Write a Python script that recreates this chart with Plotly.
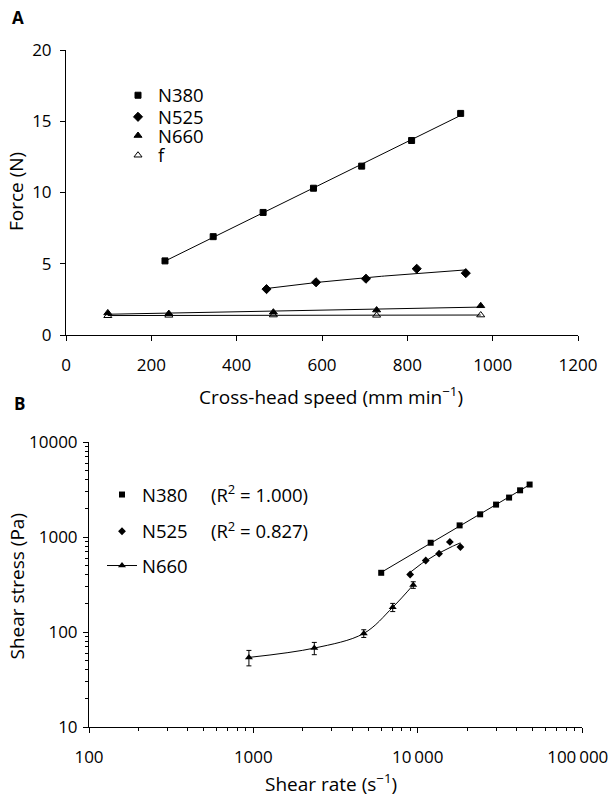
import numpy as np
import plotly.graph_objects as go

# panel A: force vs cross-head speed
speed_380 = [232, 345, 462, 580, 693, 810, 925]
force_380 = [5.2, 6.9, 8.6, 10.3, 11.85, 13.65, 15.55]
speed_525 = [470, 586, 703, 822, 937]
force_525 = [3.22, 3.7, 3.95, 4.65, 4.34]
speed_660 = [98, 241, 486, 728, 972]
force_660 = [1.55, 1.5, 1.6, 1.75, 2.05]
speed_f = [98, 241, 486, 728, 972]
force_f = [1.35, 1.38, 1.4, 1.38, 1.4]

# panel B: shear stress vs shear rate
rate_380 = [6000, 12000, 18000, 24000, 30000, 36000, 42000, 48000]
stress_380 = [420, 870, 1325, 1733, 2193, 2600, 3100, 3566]
rate_525 = [9000, 11200, 13500, 15700, 18200]
stress_525 = [403, 566, 667, 888, 785]
rate_660 = [940, 2350, 4700, 7050, 9400]
stress_660 = [54, 67.7, 96.6, 182, 313]
err_660 = [10, 10, 9, 18, 25]

FONT = "Open Sans"
BLACK = "black"
W, H = 609, 799

fig = go.Figure()


def lin_fit(x, y):
    k, b = np.polyfit(x, y, 1)
    xx = np.array([min(x), max(x)])
    return xx, k * xx + b


def log_fit(x, y):
    k, b = np.polyfit(np.log(x), y, 1)
    xx = np.linspace(min(x), max(x), 60)
    return xx, k * np.log(xx) + b


def pow_fit(x, y):
    k, b = np.polyfit(np.log(x), np.log(y), 1)
    xx = np.array([min(x), max(x)])
    return xx, np.exp(b) * xx ** k


line = dict(color=BLACK, width=1)

# ---- A : trend lines, then markers (one small legend per entry so spacing matches)
for x, y, fit in [(speed_380, force_380, lin_fit), (speed_525, force_525, log_fit),
                  (speed_660, force_660, lin_fit), (speed_f, force_f, lin_fit)]:
    fx, fy = fit(x, y)
    fig.add_trace(go.Scatter(x=fx, y=fy, mode="lines", line=line, showlegend=False,
                             hoverinfo="skip", xaxis="x", yaxis="y"))

seriesA = [("N380", speed_380, force_380, "square", 6),
           ("N525", speed_525, force_525, "diamond", 7),
           ("N660", speed_660, force_660, "triangle-up", 7),
           ("f", speed_f, force_f, "triangle-up-open", 7)]
legA = ["legend", "legend2", "legend3", "legend4"]
for (name, x, y, sym, sz), lg in zip(seriesA, legA):
    fig.add_trace(go.Scatter(x=x, y=y, mode="markers", name=name,
                             marker=dict(symbol=sym, size=sz, color=BLACK, line=dict(color=BLACK, width=1)),
                             xaxis="x", yaxis="y", legend=lg))

# ---- B
fx, fy = pow_fit(rate_380, stress_380)
fig.add_trace(go.Scatter(x=fx, y=fy, mode="lines", line=line, showlegend=False,
                         hoverinfo="skip", xaxis="x2", yaxis="y2"))
fx, fy = log_fit(rate_525, stress_525)
fig.add_trace(go.Scatter(x=fx, y=fy, mode="lines", line=line, showlegend=False,
                         hoverinfo="skip", xaxis="x2", yaxis="y2"))

fig.add_trace(go.Scatter(x=rate_380, y=stress_380, mode="markers",
                         name="N380\u2003 (R<sup>2</sup> = 1.000)",
                         marker=dict(symbol="square", size=6, color=BLACK),
                         xaxis="x2", yaxis="y2", legend="legend5"))
fig.add_trace(go.Scatter(x=rate_525, y=stress_525, mode="markers",
                         name="N525\u2003 (R<sup>2</sup> = 0.827)",
                         marker=dict(symbol="diamond", size=6, color=BLACK),
                         xaxis="x2", yaxis="y2", legend="legend6"))
fig.add_trace(go.Scatter(x=rate_660, y=stress_660, mode="lines+markers", name="N660",
                         line=dict(color=BLACK, width=1, shape="spline"),
                         marker=dict(symbol="triangle-up", size=7, color=BLACK),
                         error_y=dict(type="data", array=err_660, color=BLACK, thickness=1, width=2.5),
                         xaxis="x2", yaxis="y2", legend="legend7"))

ax = dict(showline=True, linecolor=BLACK, linewidth=1, ticks="outside", ticklen=5,
          tickcolor=BLACK, showgrid=False, zeroline=False, automargin=False,
          ticklabeloverflow="allow",
          tickfont=dict(family=FONT, size=17, color=BLACK))


def leg(mx, my):
    return dict(x=(mx - 20) / W, y=1 - my / H, xanchor="left", yanchor="middle",
                bgcolor="rgba(0,0,0,0)", font=dict(family=FONT, size=18.5, color=BLACK))


def note(text, px, py, size=19, angle=0, anchor="center"):
    return dict(text=text, x=px / W, y=1 - py / H, xref="paper", yref="paper",
                xanchor=anchor, yanchor="middle", textangle=angle, showarrow=False,
                font=dict(family=FONT, size=size, color=BLACK))


fig.update_layout(
    width=W, height=H,
    margin=dict(l=0, r=0, t=0, b=0),
    paper_bgcolor="white", plot_bgcolor="white",
    font=dict(family=FONT, size=17, color=BLACK),
    xaxis=dict(ax, domain=[66 / W, 578 / W], range=[0, 1200], dtick=200, anchor="y",
               ticklabelstandoff=10),
    yaxis=dict(ax, domain=[1 - 335 / H, 1 - 50 / H], range=[0, 20], dtick=5, anchor="x",
               ticklabelstandoff=5),
    xaxis2=dict(ax, domain=[89 / W, 582 / W], type="log", range=[2, 5], anchor="y2",
                tickvals=[100, 1000, 10000, 100000],
                # trailing space nudges the last label inside the page edge
                ticktext=["100", "1000", "10\u2009000", "100\u2009000\u2002"],
                ticklabelstandoff=10,
                minor=dict(ticks="outside", ticklen=3, tickcolor=BLACK, dtick="D1", showgrid=False)),
    yaxis2=dict(ax, domain=[1 - 727 / H, 1 - 442 / H], type="log", range=[1, 4], anchor="x2",
                tickvals=[10, 100, 1000, 10000],
                ticktext=["10", "100", "1000", "10000"],
                ticklabelstandoff=2,
                minor=dict(ticks="outside", ticklen=3, tickcolor=BLACK, dtick="D1", showgrid=False)),
    legend=leg(138, 95.7),
    legend2=leg(138, 117.3),
    legend3=leg(138, 136),
    legend4=leg(138, 155.7),
    legend5=leg(122, 495),
    legend6=leg(122, 531.7),
    legend7=leg(122, 566),
    annotations=[
        note("<b>A</b>", 10, 17.5, size=17, anchor="left"),
        note("<b>B</b>", 12, 403.5, size=17, anchor="left"),
        note("Cross-head speed (mm min<sup>\u22121</sup>)", 331, 396),
        note("Force (N)", 16, 192, angle=-90),
        note("Shear stress (Pa)", 16.5, 586, angle=-90),
        note("Shear rate (s<sup>\u22121</sup>)", 331, 783),
    ],
)

# the page body has a default 8px margin; drop it so the figure sits at 0,0
fig.write_html("out.html", config={"displayModeBar": False},
               post_script="document.body.style.margin='0';")
